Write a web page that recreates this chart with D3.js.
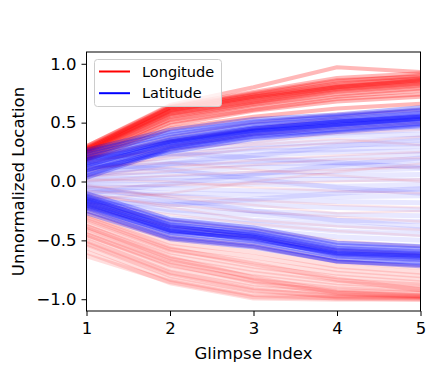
<!DOCTYPE html>
<html><head><meta charset="utf-8">
<script src="https://cdn.jsdelivr.net/npm/d3@7"></script>
<style>body{margin:0;background:#fff}svg{display:block;font-family:"DejaVu Sans",sans-serif}</style>
</head><body><svg id="c" width="426" height="367"></svg>
<script>
const glimpseIndex = [1, 2, 3, 4, 5];
const xTicks = [1, 2, 3, 4, 5];
const yTicks = [-1.0, -0.5, 0.0, 0.5, 1.0];
const yTickLabels = ["\u22121.0", "\u22120.5", "0.0", "0.5", "1.0"];
const seriesNames = ["Longitude", "Latitude"];

// Longitude trajectories (red)
const lonUpper = [
  [0.30,0.64,0.76,0.88,0.92],[0.29,0.63,0.74,0.85,0.90],[0.28,0.62,0.73,0.83,0.88],
  [0.27,0.61,0.72,0.82,0.87],[0.27,0.60,0.71,0.80,0.86],[0.26,0.59,0.70,0.80,0.85],
  [0.25,0.58,0.69,0.79,0.84],[0.25,0.57,0.68,0.78,0.83],[0.24,0.56,0.67,0.77,0.82],
  [0.23,0.55,0.66,0.76,0.81],[0.22,0.53,0.65,0.74,0.79],[0.21,0.52,0.63,0.72,0.77],
  [0.20,0.50,0.61,0.70,0.74],[0.19,0.48,0.60,0.68,0.72],[0.30,0.65,0.80,0.97,0.93],
  [0.18,0.45,0.55,0.62,0.66],[0.28,0.63,0.75,0.86,0.89],[0.26,0.60,0.72,0.81,0.86]
];
const lonLower = [
  [-0.25,-0.48,-0.55,-0.68,-0.73],[-0.28,-0.52,-0.60,-0.72,-0.77],[-0.30,-0.55,-0.64,-0.75,-0.80],
  [-0.33,-0.58,-0.68,-0.78,-0.83],[-0.35,-0.60,-0.72,-0.81,-0.86],[-0.38,-0.63,-0.75,-0.84,-0.88],
  [-0.40,-0.66,-0.78,-0.86,-0.90],[-0.42,-0.68,-0.81,-0.89,-0.92],[-0.45,-0.71,-0.84,-0.91,-0.94],
  [-0.47,-0.74,-0.87,-0.93,-0.95],[-0.50,-0.77,-0.90,-0.95,-0.97],[-0.53,-0.80,-0.93,-0.97,-0.98],
  [-0.56,-0.83,-0.96,-0.99,-0.99],[-0.60,-0.86,-0.99,-1.00,-1.00],[-0.63,-0.85,-0.98,-0.99,-1.00],
  [-0.45,-0.70,-0.85,-0.95,-0.98],[-0.38,-0.65,-0.82,-0.94,-0.97],[-0.31,-0.57,-0.70,-0.83,-0.92],
  [-0.52,-0.78,-0.92,-0.98,-0.99]
];
const lonMiddle = [
  [0.15,0.30,0.40,0.45,0.50],[0.10,0.20,0.28,0.33,0.38],[0.05,0.12,0.18,0.22,0.25],
  [0.00,0.05,0.08,0.10,0.12],[-0.05,-0.03,-0.02,0.00,0.02],[0.02,0.00,-0.05,-0.08,-0.10],
  [-0.08,-0.12,-0.16,-0.20,-0.22],[-0.12,-0.20,-0.26,-0.30,-0.34],[-0.18,-0.28,-0.36,-0.42,-0.46],
  [0.12,0.16,0.10,0.05,0.00],[-0.15,-0.10,0.00,0.08,0.15],[0.20,0.35,0.45,0.55,0.62],
  [-0.22,-0.38,-0.48,-0.58,-0.62],[0.08,0.22,0.31,0.36,0.31],[-0.03,-0.14,-0.20,-0.27,-0.25],
  [0.17,0.27,0.33,0.41,0.44],[-0.10,-0.22,-0.33,-0.38,-0.41],[0.04,0.09,0.14,0.19,0.20],
  [-0.20,-0.33,-0.41,-0.50,-0.55],[0.18,0.38,0.50,0.58,0.60]
];
// Latitude trajectories (blue)
const latUpper = [
  [0.27,0.44,0.53,0.57,0.63],[0.25,0.42,0.51,0.56,0.61],[0.23,0.40,0.50,0.55,0.60],
  [0.21,0.38,0.48,0.53,0.58],[0.19,0.36,0.46,0.52,0.57],[0.17,0.35,0.45,0.51,0.56],
  [0.15,0.34,0.44,0.50,0.55],[0.13,0.33,0.43,0.49,0.54],[0.11,0.31,0.42,0.48,0.53],
  [0.09,0.30,0.41,0.47,0.52],[0.07,0.29,0.40,0.46,0.51],[0.05,0.28,0.39,0.44,0.49],
  [0.03,0.27,0.38,0.43,0.48],[0.10,0.25,0.36,0.42,0.47],[0.18,0.34,0.45,0.51,0.55],
  [0.14,0.32,0.43,0.48,0.53]
];
const latLower = [
  [-0.10,-0.32,-0.39,-0.52,-0.55],[-0.12,-0.34,-0.41,-0.54,-0.57],[-0.14,-0.36,-0.43,-0.56,-0.59],
  [-0.15,-0.38,-0.45,-0.58,-0.61],[-0.17,-0.40,-0.47,-0.60,-0.63],[-0.19,-0.42,-0.49,-0.62,-0.65],
  [-0.21,-0.44,-0.51,-0.64,-0.67],[-0.23,-0.46,-0.53,-0.66,-0.69],[-0.25,-0.48,-0.55,-0.68,-0.71],
  [-0.27,-0.49,-0.56,-0.68,-0.72],[-0.13,-0.37,-0.46,-0.59,-0.62],[-0.18,-0.41,-0.50,-0.61,-0.64],
  [-0.22,-0.43,-0.48,-0.63,-0.66],[-0.16,-0.39,-0.44,-0.57,-0.60],[-0.20,-0.42,-0.47,-0.61,-0.63]
];
const latMiddle = [
  [0.26,0.40,0.48,0.52,0.50],[0.24,0.36,0.43,0.47,0.46],[0.22,0.33,0.38,0.41,0.44],
  [0.20,0.29,0.35,0.39,0.40],[0.18,0.27,0.31,0.34,0.37],[0.16,0.23,0.28,0.31,0.32],
  [0.14,0.21,0.26,0.27,0.30],[0.12,0.17,0.22,0.25,0.26],[0.10,0.15,0.17,0.20,0.23],
  [0.08,0.13,0.15,0.16,0.18],[0.06,0.09,0.12,0.13,0.14],[0.04,0.06,0.07,0.09,0.11],
  [0.02,0.03,0.05,0.05,0.06],[0.00,0.01,0.01,0.02,0.01],[-0.02,-0.03,-0.02,-0.04,-0.03],
  [-0.04,-0.06,-0.08,-0.08,-0.07],[-0.06,-0.10,-0.11,-0.13,-0.12],[-0.08,-0.12,-0.16,-0.17,-0.18],
  [-0.10,-0.17,-0.20,-0.22,-0.24],[-0.12,-0.19,-0.25,-0.28,-0.29],[-0.14,-0.24,-0.28,-0.33,-0.34],
  [-0.16,-0.26,-0.33,-0.37,-0.41],[-0.18,-0.31,-0.36,-0.42,-0.45],[-0.20,-0.33,-0.41,-0.47,-0.50],
  [-0.22,-0.37,-0.44,-0.52,-0.55],[0.15,0.10,0.02,-0.05,-0.10],[-0.10,-0.02,0.06,0.14,0.20],
  [0.05,0.15,0.22,0.30,0.35],[-0.05,-0.15,-0.25,-0.33,-0.38],[0.20,0.24,0.20,0.16,0.12],
  [-0.17,-0.20,-0.15,-0.10,-0.06]
];

const svg = d3.select("#c");
const L = 86.5, R = 420.5, T = 52, B = 311;
const x = d3.scaleLinear().domain([1, 5]).range([L, R]);
const y = d3.scaleLinear().domain([-1.1, 1.1]).range([B, T]);

svg.append("defs").append("clipPath").attr("id", "clip")
  .append("rect").attr("x", L).attr("y", T).attr("width", R - L).attr("height", B - T);

const line = d3.line().x((d, i) => x(glimpseIndex[i])).y(d => y(d));
const plot = svg.append("g").attr("clip-path", "url(#clip)");

function draw(data, color, op, w) {
  plot.append("g").selectAll("path").data(data).join("path")
    .attr("d", line).attr("fill", "none").attr("stroke", color)
    .attr("stroke-opacity", op).attr("stroke-width", w)
    .attr("stroke-linejoin", "round");
}
draw(lonLower, "#ff0000", 0.13, 5);
draw(lonUpper, "#ff0000", 0.28, 4);
draw(latMiddle, "#0000ff", 0.09, 5);
draw(lonMiddle, "#ff0000", 0.08, 2.5);
draw(latUpper, "#0000ff", 0.28, 4);
draw(latLower, "#0000ff", 0.28, 4);

// axes
const xAxis = svg.append("g").attr("transform", `translate(0,${B})`)
  .call(d3.axisBottom(x).tickValues(xTicks).tickFormat(d3.format("d")).tickSize(5).tickPadding(6));
const yAxis = svg.append("g").attr("transform", `translate(${L},0)`)
  .call(d3.axisLeft(y).tickValues(yTicks).tickFormat((d, i) => yTickLabels[i]).tickSize(5).tickPadding(5));
[xAxis, yAxis].forEach(a => {
  a.select(".domain").remove();
  a.selectAll("text").attr("font-size", 16.5).attr("fill", "#000").attr("font-family", "DejaVu Sans");
  a.selectAll("line").attr("stroke", "#000").attr("stroke-width", 1);
});
svg.append("rect").attr("x", L).attr("y", T).attr("width", R - L).attr("height", B - T)
  .attr("fill", "none").attr("stroke", "#000").attr("stroke-width", 1);

svg.append("text").attr("x", (L + R) / 2).attr("y", 359).attr("text-anchor", "middle")
  .attr("font-size", 16.5).text("Glimpse Index");
svg.append("text").attr("transform", `translate(24,${(T + B) / 2}) rotate(-90)`)
  .attr("text-anchor", "middle").attr("font-size", 16.5).text("Unnormalized Location");

// legend
const lg = svg.append("g");
lg.append("rect").attr("x", 94.5).attr("y", 59.5).attr("width", 127).attr("height", 47)
  .attr("rx", 3).attr("fill", "#fff").attr("fill-opacity", 0.8).attr("stroke", "#cccccc");
const colors = ["#ff0000", "#0000ff"];
seriesNames.forEach((n, i) => {
  const yy = 71.5 + i * 21.7;
  lg.append("line").attr("x1", 99).attr("x2", 130).attr("y1", yy).attr("y2", yy)
    .attr("stroke", colors[i]).attr("stroke-width", 2);
  lg.append("text").attr("x", 142).attr("y", yy + 5).attr("font-size", 14.5).text(n);
});
</script></body></html>
